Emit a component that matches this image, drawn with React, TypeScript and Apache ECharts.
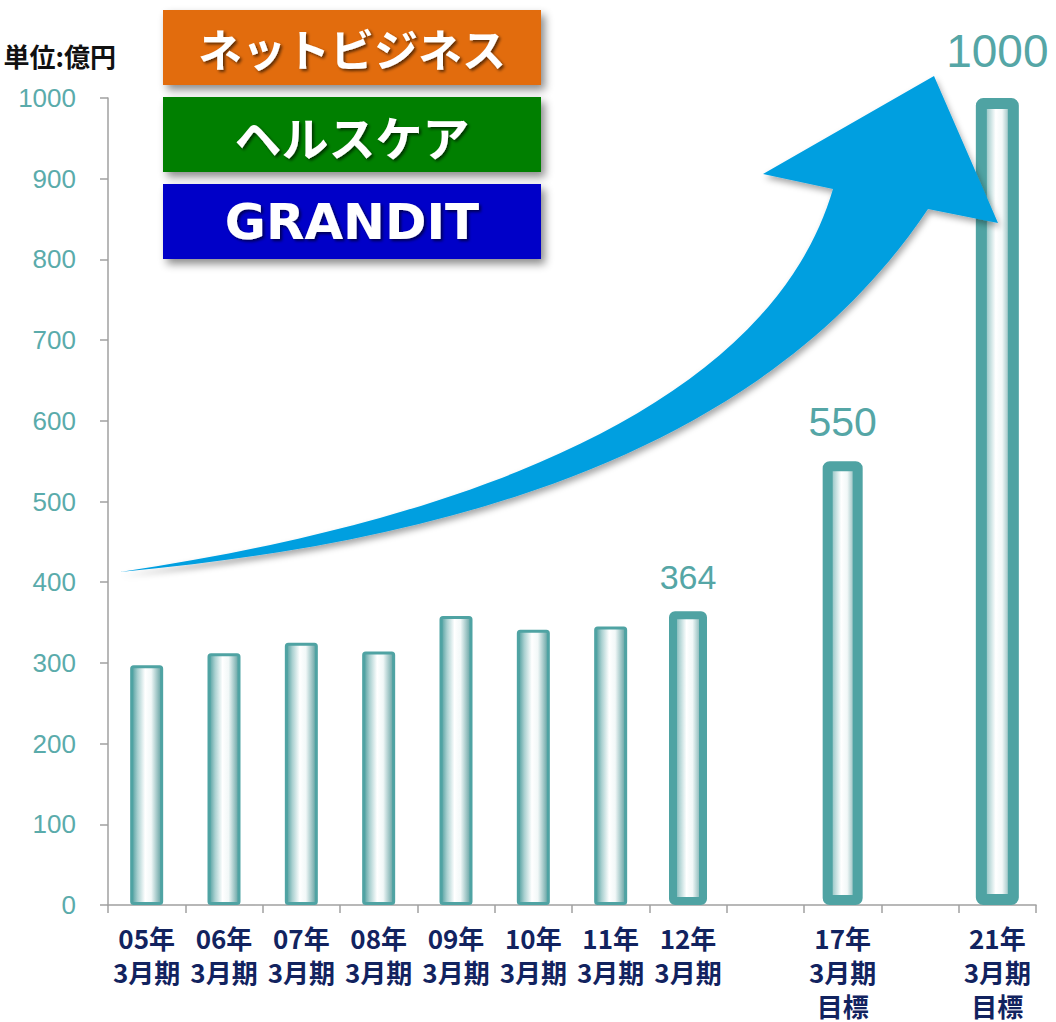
import React, { useEffect, useRef } from "react";
import * as echarts from "echarts";

const categories = [
  "05年\n3月期", "06年\n3月期", "07年\n3月期", "08年\n3月期",
  "09年\n3月期", "10年\n3月期", "11年\n3月期", "12年\n3月期",
  "", "17年\n3月期\n目標", "", "21年\n3月期\n目標",
];
const values: (number | null)[] = [297, 312, 325, 314, 358, 341, 345, 364, null, 550, null, 1000];
const labelledCategories = ["12年\n3月期", "17年\n3月期\n目標", "21年\n3月期\n目標"];
const yTicks = { min: 0, max: 1000, interval: 100 };
const unitText = "単位:億円";
const businesses = ["ネットビジネス", "ヘルスケア", "GRANDIT"];

// styles (kept separate from data)
const TEAL = "#4fa3a3";
const groupStyles = [
  { cats: null as string[] | null, width: 33, border: 3, fontSize: 0, distance: 0 },
  { cats: [labelledCategories[0]], width: 38, border: 8, fontSize: 34, distance: 17 },
  { cats: [labelledCategories[1]], width: 40, border: 10, fontSize: 41, distance: 19 },
  { cats: [labelledCategories[2]], width: 43, border: 11, fontSize: 46, distance: 24 },
];
const boxColors = ["#e26c0b", "#007f00", "#0000c8"];
const boxTops = [10, 97, 184];
const boxFonts = [
  { size: 44, family: "Noto Sans CJK JP" },
  { size: 47, family: "Noto Sans CJK JP" },
  { size: 50, family: "DejaVu Sans" },
];

const ARROW_D =
  "M 120 572 C 470 520 770 405 833 189 L 763 174 L 934 76 L 998 223 L 928 209 C 770 445 470 540 120 572 Z";

let registered = false;

export default function App() {
  const ref = useRef<HTMLDivElement>(null);
  useEffect(() => {
    document.body.style.margin = "0";
    if (!registered) {
      echarts.graphic.registerShape("bigArrow", echarts.graphic.extendPath(ARROW_D, {}) as any);
      registered = true;
    }
    const chart = echarts.init(ref.current!, null, { renderer: "svg" });
    const fill = new echarts.graphic.LinearGradient(0, 0, 1, 0, [
      { offset: 0, color: "#4c9c9c" },
      { offset: 0.2, color: "#a9d0d0" },
      { offset: 0.45, color: "#ffffff" },
      { offset: 0.65, color: "#f2f8f8" },
      { offset: 1, color: "#5d9e9e" },
    ]);

    const inGroup = (g: number, cat: string) => {
      if (g === 0) return !labelledCategories.includes(cat);
      return (groupStyles[g].cats as string[]).includes(cat);
    };

    const series = groupStyles.map((gs, g) => ({
      type: "bar",
      xAxisIndex: g,
      barWidth: gs.width,
      z: 2,
      data: values.map((v, i) => (inGroup(g, categories[i]) ? v : null)),
      itemStyle: {
        color: fill,
        borderColor: TEAL,
        borderWidth: gs.border,
        borderRadius: 2,
      },
      label:
        g === 0
          ? { show: false }
          : {
              show: true,
              position: "top",
              distance: gs.distance,
              fontSize: gs.fontSize,
              color: "#55a6a6",
              fontFamily: "Liberation Sans",
            },
    }));

    const graphics: any[] = [
      {
        type: "bigArrow",
        x: 0,
        y: 0,
        z: 10,
        style: {
          fill: "#009fe0",
          shadowColor: "rgba(0,0,0,0.35)",
          shadowBlur: 6,
          shadowOffsetX: 2,
          shadowOffsetY: 4,
        },
      },
      {
        type: "text",
        x: 116,
        y: 55,
        z: 10,
        style: {
          text: unitText,
          fill: "#111",
          fontSize: 26,
          fontWeight: "bold",
          fontFamily: "Noto Sans CJK JP",
          align: "right",
          verticalAlign: "middle",
        },
      },
    ];
    businesses.forEach((name, i) => {
      graphics.push({
        type: "rect",
        z: 10,
        shape: { x: 163, y: boxTops[i], width: 378, height: 75 },
        style: {
          fill: boxColors[i],
          shadowColor: "rgba(0,0,0,0.45)",
          shadowBlur: 8,
          shadowOffsetX: 4,
          shadowOffsetY: 5,
        },
      });
      graphics.push({
        type: "text",
        z: 11,
        x: 352,
        y: boxTops[i] + 38,
        style: {
          text: name,
          fill: "#ffffff",
          fontSize: boxFonts[i].size,
          fontWeight: "bold",
          fontFamily: boxFonts[i].family,
          align: "center",
          verticalAlign: "middle",
          textShadowColor: "rgba(0,0,0,0.6)",
          textShadowBlur: 3,
          textShadowOffsetX: 2,
          textShadowOffsetY: 2,
        },
      });
    });

    const axisLineStyle = { color: "#a0a0a0", width: 1.5 };
    const xAxes: any[] = groupStyles.map((_, g) =>
      g === 0
        ? {
            type: "category",
            data: categories,
            axisLine: { lineStyle: axisLineStyle },
            axisTick: { show: true, length: 8, interval: 0, lineStyle: axisLineStyle },
            axisLabel: {
              interval: 0,
              margin: 15,
              color: "#12235f",
              fontSize: 26,
              fontWeight: "bold",
              lineHeight: 34,
              fontFamily: "Noto Sans CJK JP",
            },
          }
        : { type: "category", data: categories, show: false }
    );

    chart.setOption({
      animation: false,
      grid: { left: 108, right: 20, top: 98, bottom: 112, containLabel: false },
      xAxis: xAxes,
      yAxis: {
        type: "value",
        min: yTicks.min,
        max: yTicks.max,
        interval: yTicks.interval,
        axisLine: { show: true, lineStyle: axisLineStyle },
        axisTick: { show: true, length: 8, lineStyle: axisLineStyle },
        splitLine: { show: false },
        axisLabel: {
          margin: 32,
          color: "#5aabab",
          fontSize: 26,
          fontFamily: "Liberation Sans",
          formatter: (v: number) => String(v),
        },
      },
      series,
      graphic: graphics,
    });
    return () => chart.dispose();
  }, []);
  return <div ref={ref} style={{ width: 1056, height: 1022 }} />;
}
